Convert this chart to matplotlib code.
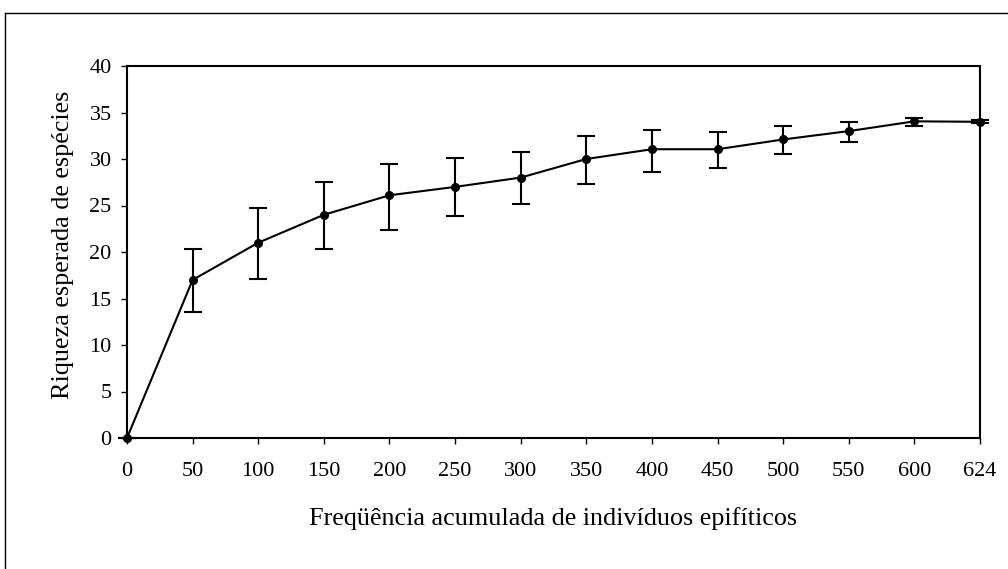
import matplotlib
matplotlib.use("Agg")
import matplotlib.pyplot as plt
from matplotlib.lines import Line2D

categories = ["0", "50", "100", "150", "200", "250", "300", "350", "400", "450", "500", "550", "600", "624"]
richness = [0, 17.0, 21.0, 24.0, 26.1, 27.0, 28.0, 30.0, 31.05, 31.05, 32.1, 33.0, 34.05, 34.0]
upper = [0, 20.3, 24.75, 27.5, 29.5, 30.1, 30.75, 32.5, 33.1, 32.9, 33.5, 34.0, 34.4, 34.15]
lower = [0, 13.6, 17.1, 20.3, 22.4, 23.9, 25.2, 27.3, 28.6, 29.05, 30.5, 31.8, 33.6, 33.85]

plt.rcParams['font.family'] = ['Liberation Serif', 'DejaVu Serif']

fig = plt.figure(figsize=(10.08, 5.69), dpi=100)
W, H = 1008, 569
ax = fig.add_axes([127 / W, 1 - 438 / H, (980 - 127) / W, (438 - 66) / H])

x = list(range(len(categories)))
yerr = [[r - l for r, l in zip(richness, lower)], [u - r for r, u in zip(richness, upper)]]
ax.errorbar(x, richness, yerr=yerr, color='black', lw=1.5, marker='o', ms=5.5,
            capsize=6.5, capthick=1.5, elinewidth=1.5, clip_on=False, zorder=3)

ax.set_xlim(0, len(categories) - 1)
ax.set_ylim(0, 40)
ax.set_xticks(x)
ax.set_xticklabels(categories)
ax.set_yticks(range(0, 41, 5))
for s in ax.spines.values():
    s.set_linewidth(1.5)
ax.tick_params(axis='both', direction='out', length=4, width=1, labelsize=16)
ax.tick_params(axis='x', pad=13)
ax.tick_params(axis='y', pad=7)
ax.set_xlabel("Freqüência acumulada de indivíduos epifíticos", fontsize=18.8, labelpad=19)
ax.set_ylabel("Riqueza esperada de espécies", fontsize=18.8)
ax.yaxis.set_label_coords(-0.062, 0.519)

# outer frame (extends past right and bottom edges)
fig.add_artist(Line2D([4.5 / W, 4.5 / W], [0, 1 - 12.5 / H], transform=fig.transFigure, color='black', lw=1))
fig.add_artist(Line2D([4.5 / W, 1], [1 - 12.5 / H, 1 - 12.5 / H], transform=fig.transFigure, color='black', lw=1))

fig.savefig("out.png", dpi=100)
